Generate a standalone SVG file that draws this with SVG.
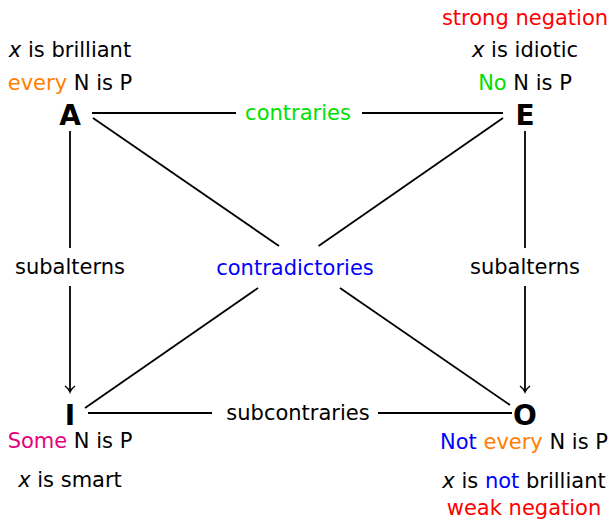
<svg xmlns="http://www.w3.org/2000/svg" width="611" height="520" viewBox="0 0 611 520">
<defs>
<marker id="arr" viewBox="-10 -6 12 12" markerWidth="12" markerHeight="12" refX="0" refY="0" orient="auto" markerUnits="userSpaceOnUse">
<path d="M-6,-5 Q-3,-1 0,0 Q-3,1 -6,5" fill="none" stroke="#000" stroke-width="1.4"/>
</marker>
<style>
text{font-family:"DejaVu Sans","Liberation Sans",sans-serif;font-size:21px;fill:#000;text-anchor:middle}
.big{font-size:28px;font-weight:bold}
.it{font-style:italic}
.conn line{stroke:#000;stroke-width:1.8}
.or{fill:#ff8000}.gr{fill:#00e000}.bl{fill:#0000ff}.rd{fill:#ff0000}.mg{fill:#e6007e}
</style>
</defs>
<rect width="611" height="520" fill="#fff"/>
<g id="connectors" class="conn">
<line x1="92" y1="113" x2="236" y2="113"/>
<line x1="362" y1="113" x2="503" y2="113"/>
<line x1="88" y1="413" x2="212" y2="413"/>
<line x1="378" y1="413" x2="512" y2="413"/>
<line x1="70" y1="131" x2="70" y2="248"/>
<line x1="70" y1="286" x2="70" y2="392" marker-end="url(#arr)"/>
<line x1="525" y1="131" x2="525" y2="248"/>
<line x1="525" y1="286" x2="525" y2="392" marker-end="url(#arr)"/>
<line x1="93" y1="118" x2="279" y2="246"/>
<line x1="340" y1="288" x2="510" y2="405"/>
<line x1="503" y1="118" x2="318.6" y2="246"/>
<line x1="258" y1="288" x2="85" y2="408"/>
</g>
<g id="edge-labels">
<text class="gr" x="298" y="120">contraries</text>
<text x="298" y="420">subcontraries</text>
<text x="70" y="274">subalterns</text>
<text x="525" y="274">subalterns</text>
<text class="bl" x="295" y="275">contradictories</text>
</g>
<g id="node-A">
<text class="big" x="70" y="125">A</text>
<text x="70" y="57"><tspan class="it">x</tspan> is brilliant</text>
<text x="70" y="90"><tspan class="or">every</tspan> N is P</text>
</g>
<g id="node-E">
<text class="big" x="525" y="125">E</text>
<text class="rd" x="525" y="25">strong negation</text>
<text x="525" y="57"><tspan class="it">x</tspan> is idiotic</text>
<text x="525" y="90"><tspan class="gr">No</tspan> N is P</text>
</g>
<g id="node-I">
<text class="big" x="70" y="425">I</text>
<text x="70" y="448"><tspan class="mg">Some</tspan> N is P</text>
<text x="70" y="487"><tspan class="it">x</tspan> is smart</text>
</g>
<g id="node-O">
<text class="big" x="525" y="425">O</text>
<text x="524" y="449"><tspan class="bl">Not</tspan> <tspan class="or">every</tspan> N is P</text>
<text x="524" y="488"><tspan class="it">x</tspan> is <tspan class="bl">not</tspan> brilliant</text>
<text class="rd" x="524" y="515">weak negation</text>
</g>
</svg>
